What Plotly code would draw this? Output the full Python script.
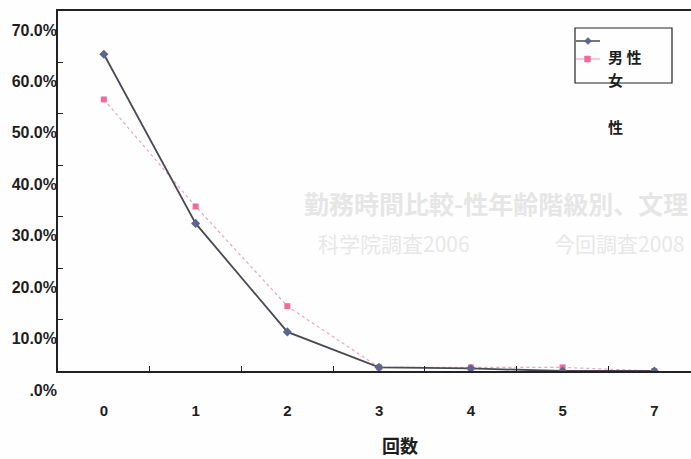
import plotly.graph_objects as go

# Share of respondents by count (回数), men vs women
categories = ["0", "1", "2", "3", "4", "5", "7"]
male_pct = [61.6, 28.7, 7.6, 0.7, 0.5, 0.0, 0.0]
female_pct = [52.8, 32.0, 12.6, 0.7, 0.7, 0.7, 0.0]
y_tick_vals = [0, 10, 20, 30, 40, 50, 60, 70]
y_tick_text = [".0%", "10.0%", "20.0%", "30.0%", "40.0%", "50.0%", "60.0%", "70.0%"]

W, H = 691, 459


def px(x):
    return x / W


def py(y):
    return 1 - y / H


MALE_LINE = "#4a4a55"
MALE_MARK = "#5b6590"
FEMALE_LINE = "#eaa6c0"
FEMALE_MARK = "#f06a9c"
TICK_FONT = dict(family="Liberation Sans, Arial, sans-serif", size=15, color="#1e1e1e",
                 weight="bold")
YTICK_FONT = dict(TICK_FONT, size=16)
CJK = "Noto Sans CJK JP, sans-serif"

fig = go.Figure()

fig.add_trace(go.Scatter(
    x=categories, y=female_pct, mode="lines+markers", name="女性",
    line=dict(color=FEMALE_LINE, width=1.2, dash="dot"),
    marker=dict(symbol="square", size=6, color=FEMALE_MARK),
))
fig.add_trace(go.Scatter(
    x=categories, y=male_pct, mode="lines+markers", name="男性",
    line=dict(color=MALE_LINE, width=1.8),
    marker=dict(symbol="diamond", size=7, color=MALE_MARK),
))

fig.update_layout(
    width=W, height=H,
    margin=dict(l=0, r=0, t=0, b=0, autoexpand=False),
    paper_bgcolor="#fefefe",
    plot_bgcolor="rgba(0,0,0,0)",
    showlegend=False,
    xaxis=dict(
        domain=[px(58), 1],
        type="category",
        range=[-0.5, 6.4],
        tickson="boundaries",
        ticks="inside", ticklen=5, tickcolor="#222", tickwidth=1,
        showline=True, linecolor="#222", linewidth=1.6,
        mirror=True,
        showgrid=False, zeroline=False,
        tickfont=TICK_FONT,
        ticklabelstandoff=25,
        automargin=False,
    ),
    yaxis=dict(
        domain=[py(371), py(11)],
        range=[0, 70],
        tickvals=y_tick_vals, ticktext=y_tick_text,
        ticks="inside", ticklen=5, tickcolor="#222", tickwidth=1,
        showline=True, linecolor="#222", linewidth=1.6,
        showgrid=False, zeroline=False,
        tickfont=YTICK_FONT,
        ticklabelshift=19,
        ticklabelstandoff=-4,
        automargin=False,
    ),
)

# faint show-through text from the reverse side of the page
fig.add_annotation(x=px(302), y=py(203), xref="paper", yref="paper", xanchor="left",
                   yanchor="middle", showarrow=False,
                   text="勤務時間比較-性年齢階級別、文理",
                   font=dict(family=CJK, size=25, color="#e6e6e6", weight="bold"))
fig.add_annotation(x=px(316), y=py(243), xref="paper", yref="paper", xanchor="left",
                   yanchor="middle", showarrow=False, text="科学院調査2006",
                   font=dict(family=CJK, size=21, color="#e8e8e8"))
fig.add_annotation(x=px(552), y=py(243), xref="paper", yref="paper", xanchor="left",
                   yanchor="middle", showarrow=False, text="今回調査2008",
                   font=dict(family=CJK, size=21, color="#e8e8e8"))

# axis title
fig.add_annotation(x=px(400), y=py(458.5), xref="paper", yref="paper", showarrow=False,
                   xanchor="center", yanchor="bottom", borderpad=0,
                   text="<b>回数</b>", font=dict(family=CJK, size=18, color="#1e1e1e"))

# legend box with its keys
fig.add_shape(type="rect", xref="paper", yref="paper",
              x0=px(575), x1=px(672), y0=py(83), y1=py(28),
              line=dict(color="#222", width=1.2), fillcolor="rgba(0,0,0,0)")
fig.add_shape(type="line", xref="paper", yref="paper",
              x0=px(576), x1=px(600), y0=py(41), y1=py(41),
              line=dict(color=MALE_LINE, width=1.5))
d = 3.5
fig.add_shape(type="path", xref="paper", yref="paper",
              path=(f"M {px(588)} {py(41 - d)} L {px(588 + d)} {py(41)} "
                    f"L {px(588)} {py(41 + d)} L {px(588 - d)} {py(41)} Z"),
              fillcolor=MALE_MARK, line=dict(color=MALE_MARK, width=0.5))
fig.add_shape(type="line", xref="paper", yref="paper",
              x0=px(576), x1=px(600), y0=py(59), y1=py(59),
              line=dict(color=FEMALE_LINE, width=1.2))
fig.add_shape(type="rect", xref="paper", yref="paper",
              x0=px(584.5), x1=px(590.5), y0=py(62), y1=py(56),
              fillcolor=FEMALE_MARK, line=dict(color=FEMALE_MARK, width=0.5))

legend_font = dict(family=CJK, size=15, color="#1e1e1e")
fig.add_annotation(x=px(606), y=py(56.5), xref="paper", yref="paper", xanchor="left",
                   yanchor="middle", showarrow=False, text="<b>男 性</b>", font=legend_font)
fig.add_annotation(x=px(606), y=py(79.5), xref="paper", yref="paper", xanchor="left",
                   yanchor="middle", showarrow=False, text="<b>女</b>", font=legend_font)
fig.add_annotation(x=px(606), y=py(126), xref="paper", yref="paper", xanchor="left",
                   yanchor="middle", showarrow=False, text="<b>性</b>", font=legend_font)

fig.write_html("out.html")
